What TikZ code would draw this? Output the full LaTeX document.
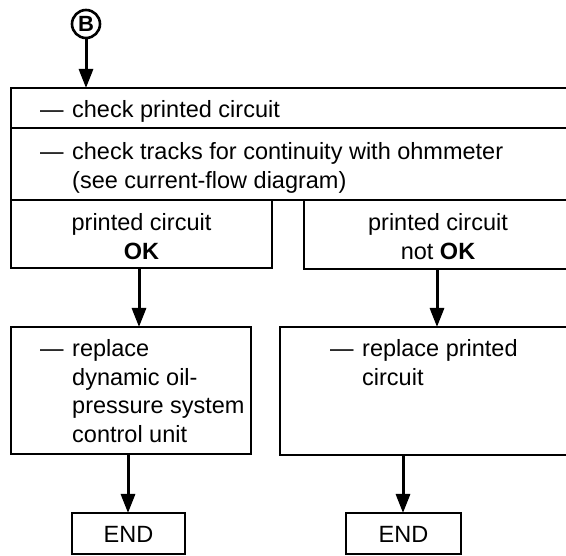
\documentclass[tikz,border=0pt]{standalone}
\usepackage{fontspec}
\setmainfont{Liberation Sans}
\usetikzlibrary{arrows.meta}
\begin{document}
\begin{tikzpicture}[x=1pt,y=-1pt,
  box/.style={draw, line width=2.8pt, inner sep=0pt, outer sep=0pt, anchor=north west},
  arr/.style={line width=3pt, -{Triangle[length=19pt,width=14pt]}},
  txt/.style={inner sep=0pt, font=\fontsize{23.5}{28.5}\selectfont},
  lft/.style={txt, anchor=base west},
  ctr/.style={txt, anchor=base}]
\clip (0,0) rectangle (566,556);
% boxes
\node[box, minimum width=564pt, minimum height=40pt] (row1) at (11,88) {};
\node[box, minimum width=564pt, minimum height=72pt] (row2) at (11,128) {};
\node[box, minimum width=261pt, minimum height=68pt] (ok) at (11,200) {};
\node[box, minimum width=271pt, minimum height=69pt] (nok) at (304,200) {};
\node[box, minimum width=240pt, minimum height=127pt] (rep) at (11,327) {};
\node[box, minimum width=295pt, minimum height=128pt] (rpc) at (280,327) {};
\node[box, minimum width=113pt, minimum height=41pt] (end1) at (72,513) {};
\node[box, minimum width=115pt, minimum height=41pt] (end2) at (346,513) {};
% connector B
\node[draw, circle, line width=2.6pt, minimum size=28pt, inner sep=0pt,
      font=\fontsize{22}{22}\selectfont\bfseries] (B) at (86,24) {B};
% x positions of arrows
\coordinate (xa) at (139,0);
\coordinate (xb) at (437,0);
\coordinate (xc) at (128,0);
\coordinate (xd) at (403,0);
% arrows
\draw[arr] (B) -- (row1.north -| B);
\draw[arr] (ok.south -| xa) -- (rep.north -| xa);
\draw[arr] (nok.south -| xb) -- (rpc.north -| xb);
\draw[arr] (rep.south -| xc) -- (end1.north -| xc);
\draw[arr] (rpc.south -| xd) -- (end2.north -| xd);
% texts
\node[lft] (t1) at (40,118) {\makebox[32pt][l]{—}check printed circuit};
\node[lft] (t2) at (40,160) {\begin{tabular}[t]{@{}p{32pt}@{}l@{}}—&check tracks for continuity with ohmmeter\\&(see current-flow diagram)\end{tabular}};
\node[ctr] (t3) at (141.5,231) {\begin{tabular}[t]{@{}c@{}}printed circuit\\\textbf{OK}\end{tabular}};
\node[ctr] (t4) at (438,231) {\begin{tabular}[t]{@{}c@{}}printed circuit\\not \textbf{OK}\end{tabular}};
\node[lft] (t5) at (40,357) {\begin{tabular}[t]{@{}p{32pt}@{}l@{}}—&replace\\&dynamic oil-\\&pressure system\\&control unit\end{tabular}};
\node[lft] (t6) at (330,357) {\begin{tabular}[t]{@{}p{32pt}@{}l@{}}—&replace printed\\&circuit\end{tabular}};
\node[ctr] (t7) at (end1.center |- 0,543) {END};
\node[ctr] (t8) at (end2.center |- 0,543) {END};
\end{tikzpicture}
\end{document}
